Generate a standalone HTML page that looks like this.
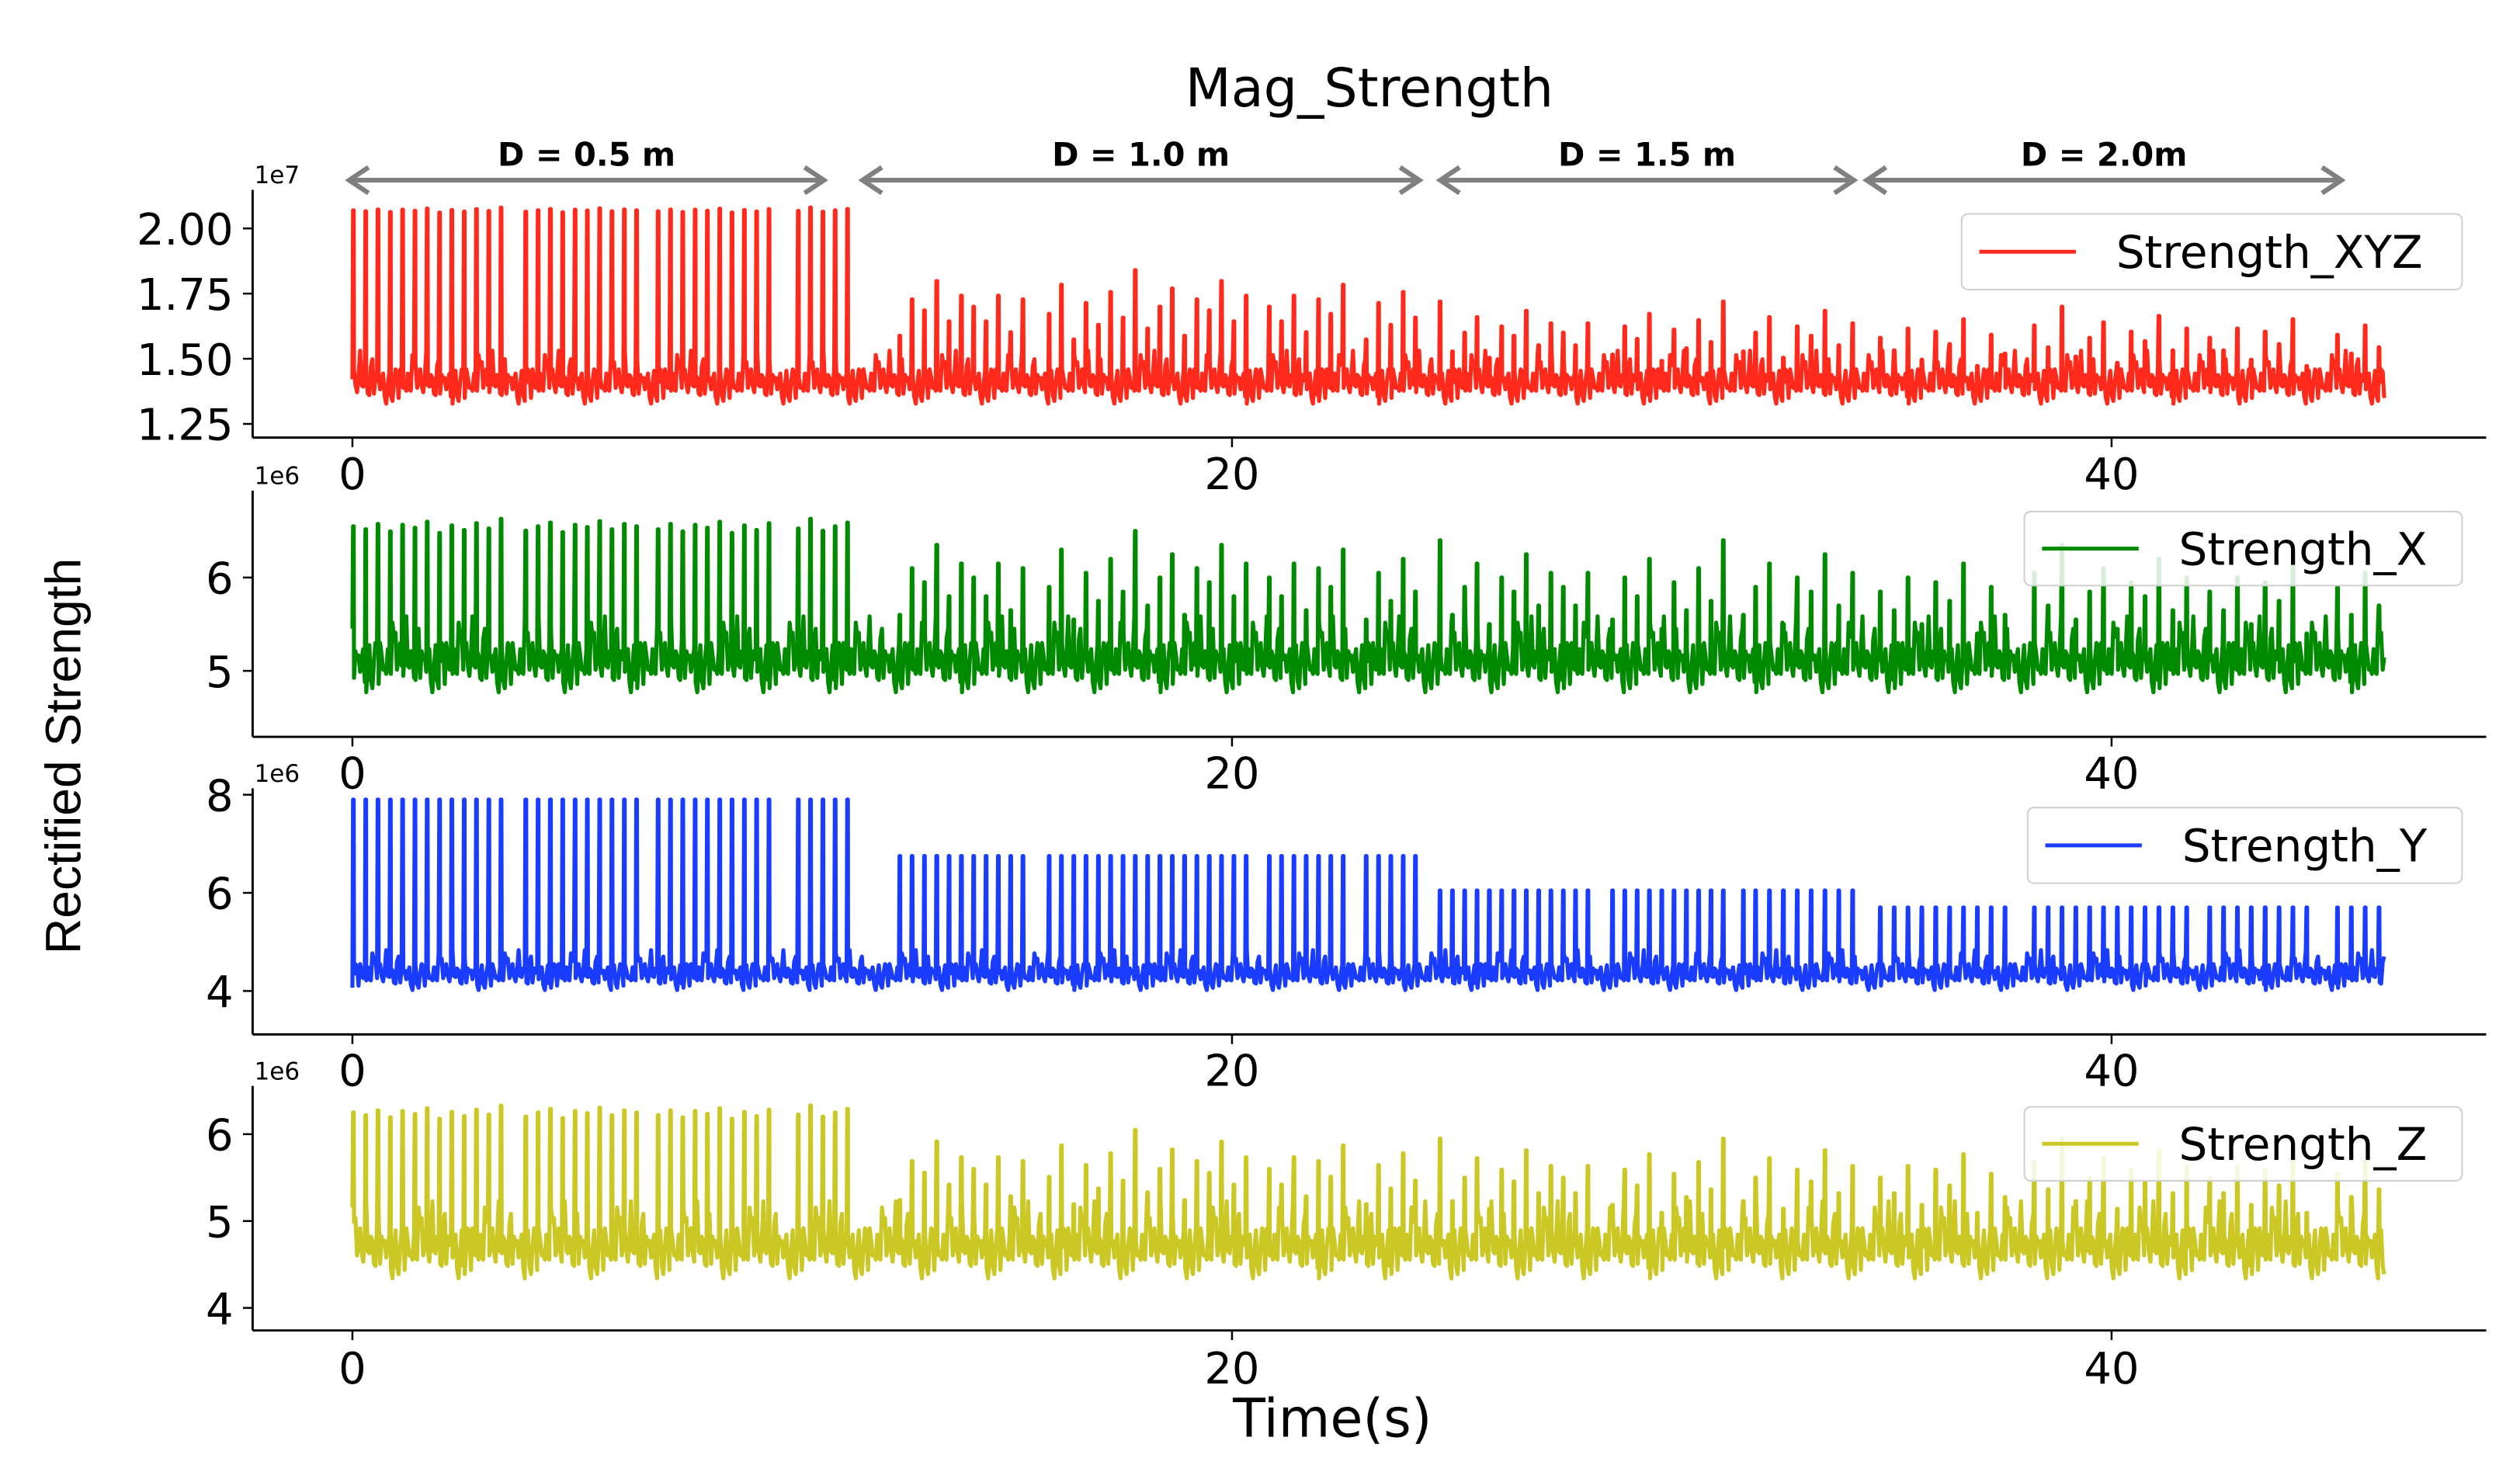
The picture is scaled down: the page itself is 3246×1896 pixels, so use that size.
<!DOCTYPE html>
<html><head><meta charset="utf-8"><style>
html,body{margin:0;padding:0;background:#fff;}
svg{display:block;font-family:"DejaVu Sans","Liberation Sans",sans-serif;}
</style></head><body>
<svg id="fig" width="3246" height="1896" viewBox="0 0 1566 915" preserveAspectRatio="none" xmlns="http://www.w3.org/2000/svg">
<text x="851" y="66" font-size="33" text-anchor="middle">Mag_Strength</text>
<text transform="translate(50,470) rotate(-90)" font-size="31" text-anchor="middle" font-family="Liberation Sans, sans-serif">Rectified Strength</text>
<text x="828" y="893" font-size="33" text-anchor="middle">Time(s)</text>
<g id="arrows"></g>
<g id="panels"></g>
</svg>
<script>
// ---- data ----
const xTicks=[0,20,40];
const tEnd=46.2;
const segStart=[0,12.4,24.7,34.7];
const segEnd=[11.3,24.3,34.3,46.2];
const segPeriod=[0.26,0.27,0.28,0.29];
const gapStart=[3.5,6.5,9.7,15.4,20.4,22.6,28.2,31.2,37.8,41.8,44.7];
const gapEnd=[3.9,6.9,10.1,15.8,20.8,23.0,28.6,31.6,38.2,42.2,45.1];
const noiseVals=[0.2,-0.5,0.9,-0.9,0.1,1.6,-0.3,0.9,-0.6,0.3,-1.3,0.6,-0.8,0.5,-0.2,1.9,-0.4,0.0,-1.0,0.5,0.3,-0.7,1.2,-0.3,0.9,-1.5,0.1,-0.8,0.4,1.4,-0.6,0.7,-0.2,0.3,-0.9,2.2,-0.4,0.6,-1.1,0.8,-0.5,1.1,-0.2];
const peakVar=[0.0,-0.4,0.3,-0.7,0.2,-0.2,0.6,-0.9,0.1,-0.5,0.4,-0.3,1.0,-0.6,0.0,0.5,-0.8,0.2,-0.1,0.7,-0.4,0.3];
const xyzPeaks=[2.07,1.70,1.60,1.58], xyzBase=1.41, xyzAmp=0.055, xyzVar=[0.01,0.14,0.12,0.12];
const xPeaks=[6.55,6.0,5.9,5.85], xBase=5.1, xAmp=0.22, xVar=[0.08,0.5,0.5,0.5];
const yPeaks=[7.9,6.75,6.05,5.7], yBase=4.35, yAmp=0.22, yVar=[0.0,0.0,0.0,0.0];
const zPeaks=[6.25,5.6,5.5,5.5], zBase=4.7, zAmp=0.24, zVar=[0.08,0.45,0.45,0.45];

const NS='http://www.w3.org/2000/svg';
const svg=document.getElementById('fig');
const panelsG=document.getElementById('panels');
function xs(t){return 219+t*27.33;}
function mk(tag,attrs,parent){const e=document.createElementNS(NS,tag);for(const k in attrs)e.setAttribute(k,attrs[k]);(parent||svg).appendChild(e);return e;}

const panels=[
 {name:'xyz',label:'Strength_XYZ',color:'#ff2a1c',peaks:xyzPeaks,base:xyzBase,amp:xyzAmp,vr:xyzVar,top:118,bottom:272,ref:2.0,refY:142,k:162,ticks:[1.25,1.5,1.75,2.0],fmt:v=>v.toFixed(2),exp:'1e7',leg:[1219,133,311,47]},
 {name:'x',label:'Strength_X',color:'#008a00',peaks:xPeaks,base:xBase,amp:xAmp,vr:xVar,top:305,bottom:458,ref:5,refY:417,k:58,ticks:[5,6],fmt:v=>String(v),exp:'1e6',leg:[1258,318,272,46]},
 {name:'y',label:'Strength_Y',color:'#1a3cff',peaks:yPeaks,base:yBase,amp:yAmp,vr:yVar,top:490,bottom:643,ref:4,refY:616,k:30.5,ticks:[4,6,8],fmt:v=>String(v),exp:'1e6',leg:[1260,502,270,47]},
 {name:'z',label:'Strength_Z',color:'#cbc724',peaks:zPeaks,base:zBase,amp:zAmp,vr:zVar,top:675,bottom:827,ref:5,refY:759,k:54,ticks:[4,5,6],fmt:v=>String(v),exp:'1e6',leg:[1258,688,272,46]}
];
function inGap(t){for(let i=0;i<gapStart.length;i++)if(t>=gapStart[i]&&t<gapEnd[i])return true;return false;}
function segOf(t){for(let i=0;i<segStart.length;i++)if(t>=segStart[i]&&t<segEnd[i])return i;return -1;}

panels.forEach((p,pi)=>{
 const g=mk('g',{},panelsG);
 
 
 const ys=v=>p.refY-(v-p.ref)*p.k;
 let pts=[];let i=0;let nextSpike=0;let sc=0;
 for(let t=0;t<=tEnd;t+=0.035,i++){
  const n=noiseVals[(i*7+pi*5)%noiseVals.length];
  let v=p.base+n*p.amp;
  pts.push(xs(t).toFixed(1)+','+ys(v).toFixed(1));
  const s=segOf(t);
  if(s>=0&&t>=nextSpike&&!inGap(t)){
   const pv=p.peaks[s]+peakVar[sc%peakVar.length]*p.vr[s];
   pts.push(xs(t+0.015).toFixed(1)+','+ys(pv).toFixed(1));
   pts.push(xs(t+0.03).toFixed(1)+','+ys(pv).toFixed(1));
   sc++;nextSpike=t+segPeriod[s];
  }
  if(s<0)nextSpike=0;
 }
 const line=mk('polyline',{points:pts.join(' '),fill:'none',stroke:p.color,'stroke-width':2.5,'stroke-linejoin':'round'},g);
 
 
 const ls=mk('line',{x1:157,y1:p.top,x2:157,y2:p.bottom,stroke:'#000','stroke-width':1.4},g);
 
 
 const bs=mk('line',{x1:157,y1:p.bottom,x2:1545,y2:p.bottom,stroke:'#000','stroke-width':1.4},g);
 
 
 p.ticks.forEach(v=>{
  const y=ys(v);
  const tk=mk('line',{x1:151,y1:y,x2:157,y2:y,stroke:'#000','stroke-width':1.2},g);
  
  
  const tl=mk('text',{x:145,y:y+10,'font-size':27,'text-anchor':'end'},g);
  tl.textContent=p.fmt(v);
  
  
 });
 xTicks.forEach(v=>{
  const x=xs(v);
  const tk=mk('line',{x1:x,y1:p.bottom,x2:x,y2:p.bottom+6,stroke:'#000','stroke-width':1.2},g);
  
  
  const tl=mk('text',{x:x,y:p.bottom+(pi==3?33:32),'font-size':27,'text-anchor':'middle'},g);
  tl.textContent=String(v);
  
  
 });
 const ex=mk('text',{x:158,y:p.top-4,'font-size':15},g);
 ex.textContent=p.exp;
 
 
 const [lx,ly,lw,lh]=p.leg;
 const lg=mk('g',{},g);
 
 
 mk('rect',{x:lx,y:ly,width:lw,height:lh,rx:4,fill:'#fff','fill-opacity':0.85,stroke:'#d0d0d0','stroke-width':1},lg);
 mk('line',{x1:lx+11,y1:ly+lh/2,x2:lx+71,y2:ly+lh/2,stroke:p.color,'stroke-width':2.4},lg);
 const lt=mk('text',{x:lx+96,y:ly+lh/2+10,'font-size':28},lg);
 lt.textContent=p.label;
 
 
});
const arrowX1=[217,536,895,1160], arrowX2=[512,882,1152,1455];
const arrowLabels=['D = 0.5 m','D = 1.0 m','D = 1.5 m','D = 2.0m'];
const ag=document.getElementById('arrows');
arrowLabels.forEach((lab,i)=>{
 const a=arrowX1[i],b=arrowX2[i],y=112;
 const ln=mk('path',{d:`M${a},${y}H${b}M${a+12},${y-8}L${a},${y}L${a+12},${y+8}M${b-12},${y-8}L${b},${y}L${b-12},${y+8}`,fill:'none',stroke:'#808080','stroke-width':3},ag);
 
 
 const t=mk('text',{x:(a+b)/2,y:103,'font-size':20,'font-weight':'bold','text-anchor':'middle'},ag);
 t.textContent=lab;
 
 
});
</script>
</body></html>
